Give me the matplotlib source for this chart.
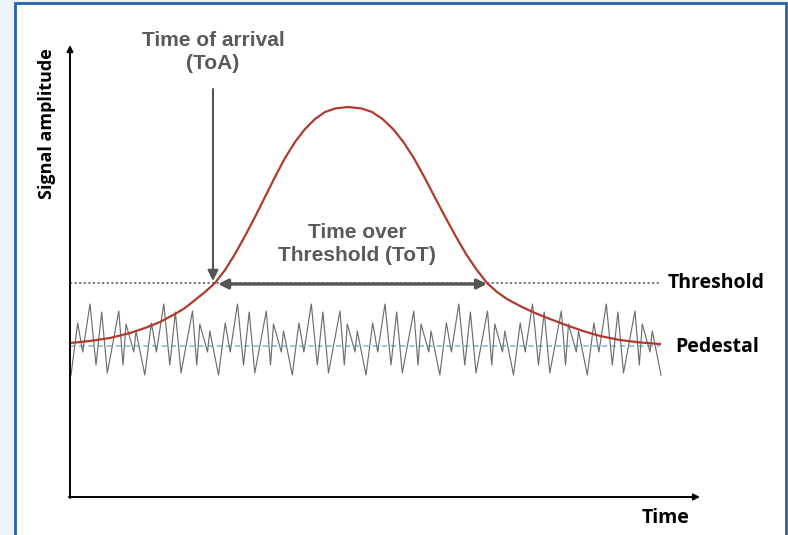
import matplotlib.pyplot as plt
from matplotlib.patches import Rectangle

# Schematic units: t = time (px from origin), a = amplitude (px above time axis)

# Signal pulse
pulse_t = [0, 20, 40, 60, 75, 90, 105, 115, 125, 135, 145,
           155, 165, 175, 185, 195, 205, 215, 225, 235, 245, 255, 265, 278,
           291.6, 302, 312.5, 323, 333.4, 343.8, 354.3, 364.7, 375.2, 385.6, 396, 406.5, 417,
           427, 437, 450, 465, 480, 496, 513, 530, 550, 570, 590]
pulse_a = [154, 156, 159, 164, 169, 175, 183, 189, 197, 205, 214,
           227, 243, 261, 280, 300, 320, 339, 355, 368, 378, 385, 388.5, 390,
           388.5, 385, 378, 368, 355, 339, 320, 300, 280, 261, 243, 227.5, 214,
           205, 198, 191, 184, 178, 172, 166, 161, 157, 154.5, 153]

# Noise on the pedestal
noise_t = [1, 7.7, 12.7, 20, 26, 31.7, 37.3,
           48.8, 53, 56, 63.8, 66, 74.8, 81.4, 86.4, 93.8, 99.8, 105.4, 111,
           122.5, 126.8, 129.8, 137.5, 139.8, 148.5, 155.2, 160.2, 167.5, 173.5, 179.2, 184.8,
           196.3, 200.5, 203.5, 211.3, 213.5, 222.3, 228.9, 233.9, 241.3, 247.3, 252.9, 258.5,
           270, 274.3, 277.3, 285, 287.3, 296, 302.7, 307.7, 315, 321, 326.7, 332.3,
           343.8, 348, 351, 358.8, 361, 369.8, 376.4, 381.4, 388.8, 394.8, 400.4, 406,
           417.5, 421.8, 424.8, 432.5, 434.8, 443.5, 450.2, 455.2, 462.5, 468.5, 474.2, 479.8,
           491.3, 495.5, 498.5, 506.3, 508.5, 517.3, 523.9, 528.9, 536.3, 542.3, 547.9, 553.5,
           565, 569.3, 572.3, 580, 582.3, 591]
noise_a = [122, 174, 145, 193, 132, 185, 124,
           186, 132, 173, 145, 166, 122, 174, 145, 193, 132, 185, 124,
           186, 132, 173, 145, 166, 122, 174, 145, 193, 132, 185, 124,
           186, 132, 173, 145, 166, 122, 174, 145, 193, 132, 185, 124,
           186, 132, 173, 145, 166, 122, 174, 145, 193, 132, 185, 124,
           186, 132, 173, 145, 166, 122, 174, 145, 193, 132, 185, 124,
           186, 132, 173, 145, 166, 122, 174, 145, 193, 132, 185, 124,
           186, 132, 173, 145, 166, 122, 174, 145, 193, 132, 185, 124,
           186, 132, 173, 145, 166, 122]

threshold = 214
pedestal = 151
line_end = 590
toa_t = 143
toa_start = 408
tot_start, tot_end = 148, 417

fig = plt.figure(figsize=(7.88, 5.35), dpi=100, facecolor='#eef4fb')
# blue frame, behind the axes
frame = Rectangle((15 / 788, -0.02), 771 / 788, 1.02 - 3 / 535,
                  transform=fig.transFigure, facecolor='white',
                  edgecolor='#2563ad', lw=2, zorder=-5)
fig.add_artist(frame)

ax = fig.add_axes([0, 0, 1, 1])
ax.set_zorder(1)
ax.set_facecolor('none')
ax.set_xlim(-70, 718)
ax.set_ylim(-38, 497)
ax.axis('off')

# axes with arrows
ax.annotate('', xy=(0, 452), xytext=(0, -1),
            arrowprops=dict(arrowstyle='-|>', lw=1.4, color='black', mutation_scale=9,
                            shrinkA=0, shrinkB=0))
ax.annotate('', xy=(630, 0), xytext=(-1, 0),
            arrowprops=dict(arrowstyle='-|>', lw=1.4, color='black', mutation_scale=9,
                            shrinkA=0, shrinkB=0))

# threshold and pedestal
ax.plot([0, line_end], [threshold, threshold], color='#44546a', lw=1.1, ls=(0, (1.4, 1.6)))
ax.plot([0, line_end], [pedestal, pedestal], color='#7fb2dc', lw=1.1, ls=(0, (3.5, 2.5)))

# noise and pulse
ax.plot(noise_t, noise_a, color='#6e6e6e', lw=0.85)
ax.plot(pulse_t, pulse_a, color='#b03a2e', lw=1.6)

# ToA arrow
ax.annotate('', xy=(toa_t, threshold + 2), xytext=(toa_t, toa_start),
            arrowprops=dict(arrowstyle='-|>', lw=1.5, color='#555555', mutation_scale=16,
                            shrinkA=0, shrinkB=0))
# ToT arrow
ax.annotate('', xy=(tot_end, threshold - 1), xytext=(tot_start, threshold - 1),
            arrowprops=dict(arrowstyle='<|-|>', lw=2.4, color='#555555', mutation_scale=14,
                            shrinkA=0, shrinkB=0))

ann = dict(family='Liberation Sans', weight='bold', color='#595959', fontsize=15,
           ha='center', va='center', linespacing=1.25)
ax.text(toa_t, 445, 'Time of arrival\n(ToA)', **ann)
ax.text(287, 253, 'Time over\nThreshold (ToT)', **ann)

lab = dict(family='Open Sans', weight='bold', color='black', fontsize=14)
ax.text(598, threshold, 'Threshold', ha='left', va='center', **lab)
ax.text(605, pedestal - 1, 'Pedestal', ha='left', va='center', **lab)
ax.text(596, -21, 'Time', ha='center', va='center', **lab)
ax.text(-23, 373, 'Signal amplitude', ha='center', va='center', rotation=90,
        family='Open Sans', weight='bold', color='black', fontsize=13)

fig.savefig('out.png', dpi=100, facecolor=fig.get_facecolor())
